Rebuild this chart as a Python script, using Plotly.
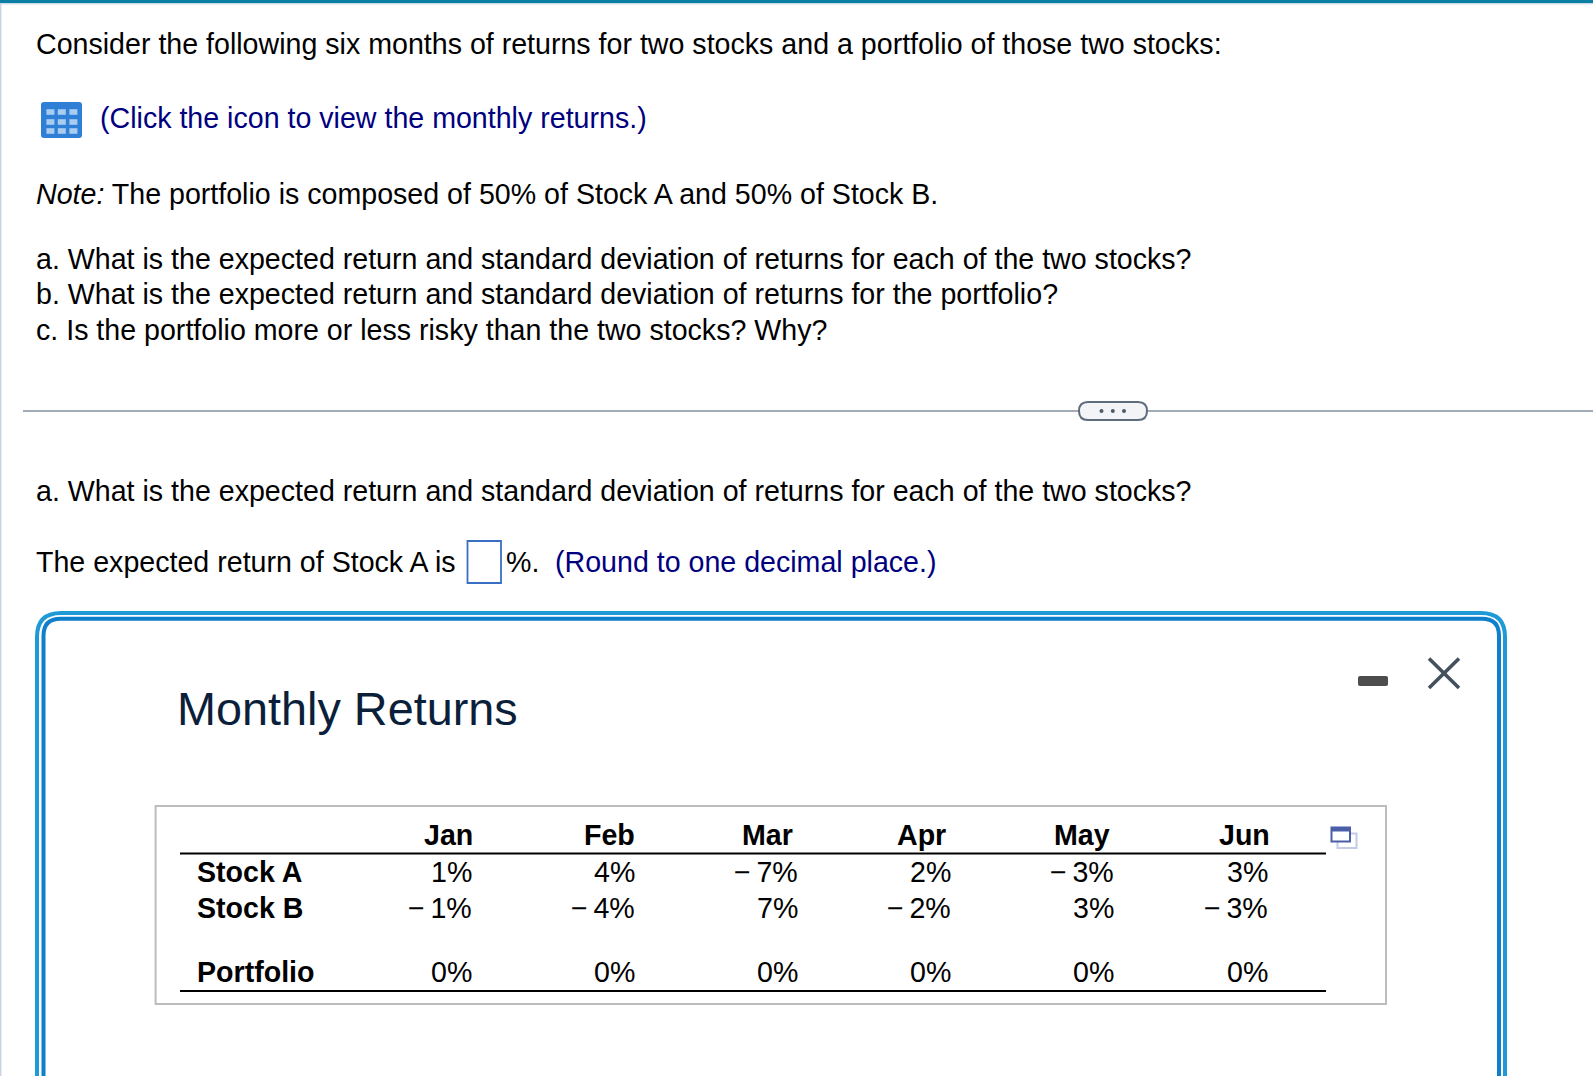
import plotly.graph_objects as go

# question text
intro = "Consider the following six months of returns for two stocks and a portfolio of those two stocks:"
click_hint = "(Click the icon to view the monthly returns.)"
note = "<i>Note:</i> The portfolio is composed of 50% of Stock A and 50% of Stock B."
q_a = "a. What is the expected return and standard deviation of returns for each of the two stocks?"
q_b = "b. What is the expected return and standard deviation of returns for the portfolio?"
q_c = "c. Is the portfolio more or less risky than the two stocks? Why?"
answer_lead = "The expected return of Stock A is"
answer_hint = "(Round to one decimal place.)"
popup_title = "Monthly Returns"

# table values
months = ["Jan", "Feb", "Mar", "Apr", "May", "Jun"]
stock_a = [1, 4, -7, 2, -3, 3]
stock_b = [-1, -4, 7, -2, 3, -3]
portfolio = [0, 0, 0, 0, 0, 0]

# right edges of the table columns
header_right = [475, 637, 795, 948, 1112, 1272]
value_right = [474, 637, 800, 953, 1116, 1270]

BLACK = "#000000"
NAVY = "#00007f"
FONT = "Liberation Sans"

fig = go.Figure()


def add_text(x, baseline, s, size=28.6, color=BLACK, anchor="left", bold=False):
    if bold:
        s = "<b>" + s + "</b>"
    fig.add_annotation(x=x, y=baseline - 0.34 * size, text=s, showarrow=False,
                       xanchor=anchor, yanchor="middle",
                       font=dict(family=FONT, size=size, color=color))


def add_rect(x0, y0, x1, y1, fill=None, line=None, width=0):
    fig.add_shape(type="rect", x0=x0, y0=y0, x1=x1, y1=y1, fillcolor=fill,
                  line=dict(color=line, width=width))


def add_round_rect(x0, y0, x1, y1, r, fill):
    fig.add_shape(type="path", fillcolor=fill, line_width=0,
                  path=f"M {x0 + r} {y0} L {x1 - r} {y0} Q {x1} {y0} {x1} {y0 + r} "
                       f"L {x1} {y1 - r} Q {x1} {y1} {x1 - r} {y1} "
                       f"L {x0 + r} {y1} Q {x0} {y1} {x0} {y1 - r} "
                       f"L {x0} {y0 + r} Q {x0} {y0} {x0 + r} {y0} Z")


def add_line(x0, y0, x1, y1, color, width):
    fig.add_shape(type="line", x0=x0, y0=y0, x1=x1, y1=y1, line=dict(color=color, width=width))


def popup_path(left, right, top, r):
    return (f"M {left} 1100 L {left} {top + r} Q {left} {top} {left + r} {top} "
            f"L {right - r} {top} Q {right} {top} {right} {top + r} L {right} 1100")


def fmt(v):
    if v < 0:
        return "\u2212\u2009" + str(abs(v)) + "%"
    return str(v) + "%"


# page edges
add_rect(0, 0, 1593, 3.2, fill="#0a7fa3")
add_rect(0, 3.2, 1593, 4.6, fill="#d3dbe9")
add_rect(0, 3, 1.4, 1076, fill="#c9d3e6")

# upper text
add_text(33.8, 54, intro)
add_text(97.5, 127.5, click_hint, color=NAVY)
add_text(33.8, 204, note)
add_text(33.8, 268.6, q_a)
add_text(33.8, 304, q_b)
add_text(33.8, 339.6, q_c)

# table icon
add_round_rect(41, 102, 82, 138, 3, "#2f7fd6")
for cx in [50.4, 61.8, 73.4]:
    for cy in [112, 122, 131]:
        add_rect(cx - 4, cy - 2.8, cx + 4, cy + 2.8, fill="#a9ccf1")

# divider and its pill
add_line(23, 411, 1593, 411, "#8390a2", 1.5)
fig.add_shape(type="path", path="M 1088 402 L 1138 402 Q 1147 402 1147 411 Q 1147 420 1138 420 "
              "L 1088 420 Q 1079 420 1079 411 Q 1079 402 1088 402 Z",
              fillcolor="#f2f4f8", line=dict(color="#5d6b7b", width=2))
for cx in [1101.5, 1112.8, 1124]:
    fig.add_shape(type="circle", x0=cx - 2, y0=409, x1=cx + 2, y1=413, fillcolor="#4c5a68", line_width=0)

# answer line
add_text(33.8, 501, q_a)
add_text(33.8, 571.6, answer_lead)
add_rect(467.5, 541, 501, 583, fill="#ffffff", line="#3a6fc4", width=1.8)
add_text(504, 571.6, "%.")
add_text(552.5, 571.6, answer_hint, color=NAVY)

# popup frame
fig.add_shape(type="path", path=popup_path(37, 1505, 613, 24), line=dict(color="#1f9ad6", width=4))
fig.add_shape(type="path", path=popup_path(43.5, 1499, 618.7, 17), line=dict(color="#0f7fcc", width=4))
add_text(175, 725, popup_title, size=46.8, color="#0b1f3a")

# minimise and close
add_round_rect(1358, 676, 1388, 686, 2, "#4d4d4d")
add_line(1429, 658.5, 1459, 688, "#44505c", 3.6)
add_line(1459, 658.5, 1429, 688, "#44505c", 3.6)

# table
add_rect(155.6, 806, 1386, 1004, fill="#ffffff", line="#bdbdbd", width=2)
add_line(180, 853.5, 1326, 853.5, BLACK, 2)
add_line(180, 991, 1326, 991, BLACK, 2)
for m, xr in zip(months, header_right):
    add_text(xr, 845, m, anchor="right", bold=True)
for name, vals, baseline in [("Stock A", stock_a, 881.7), ("Stock B", stock_b, 918), ("Portfolio", portfolio, 981.7)]:
    add_text(194.5, baseline, name, bold=True)
    for v, xr in zip(vals, value_right):
        add_text(xr, baseline, fmt(v), anchor="right")

# copy icon
add_rect(1337.5, 833.5, 1356.5, 848, fill="#ffffff", line="#c3cbe6", width=2)
add_rect(1331.5, 827.5, 1350, 841.5, fill="#ffffff", line="#4a5fa8", width=2)
add_rect(1331.5, 827.5, 1350, 831.5, fill="#4a5fa8")

fig.update_layout(
    width=1593, height=1076, margin=dict(l=0, r=0, t=0, b=0),
    paper_bgcolor="#ffffff", plot_bgcolor="#ffffff", showlegend=False,
    xaxis=dict(range=[0, 1593], visible=False, fixedrange=True),
    yaxis=dict(range=[1076, 0], visible=False, fixedrange=True),
)

fig.write_html("out.html", post_script="document.body.style.margin='0';", config={"displayModeBar": False})
